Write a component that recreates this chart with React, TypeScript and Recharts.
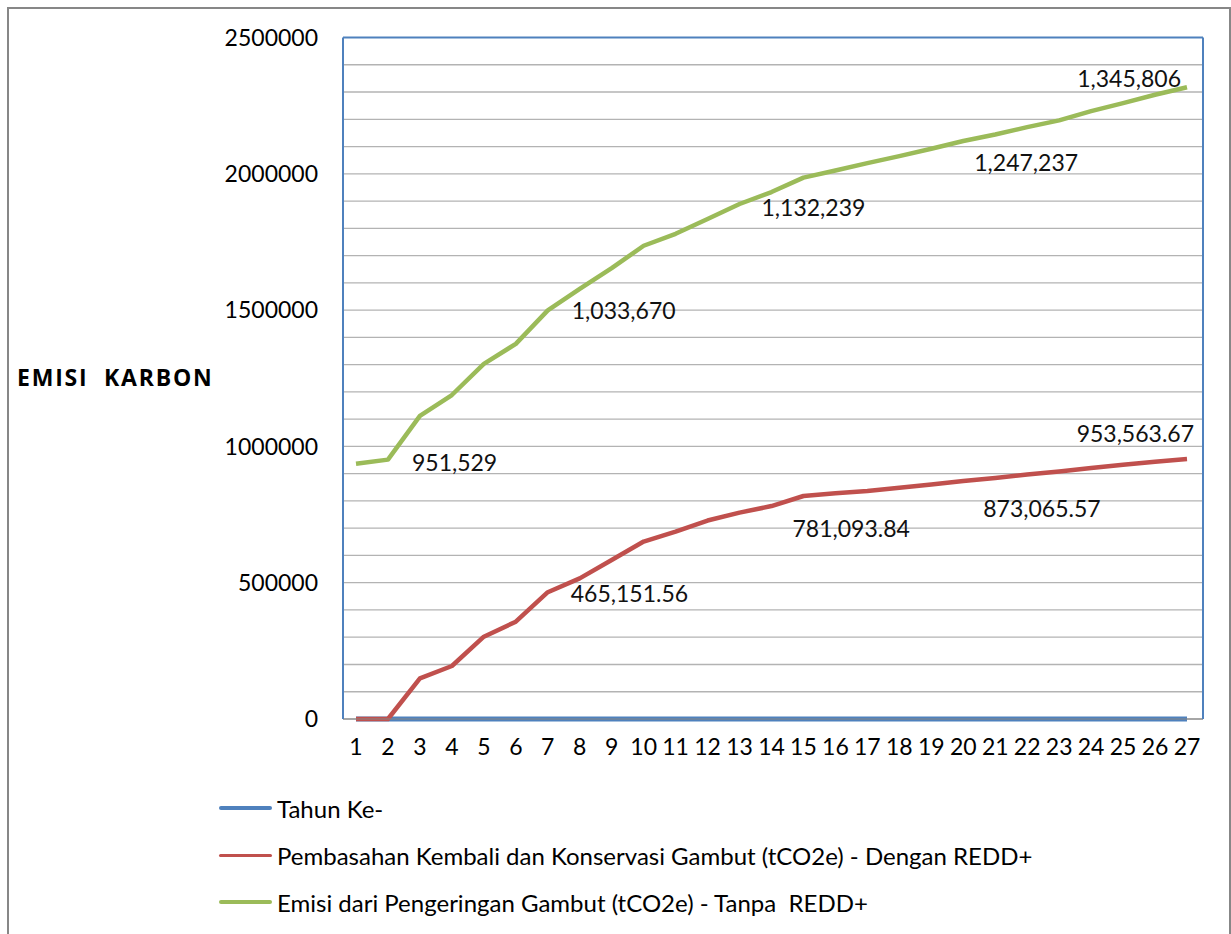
import React from 'react';
import { AreaChart, Area, XAxis, YAxis, CartesianGrid, LabelList } from 'recharts';

// Tahun (years 1..27) on the category axis
const years = [1, 2, 3, 4, 5, 6, 7, 8, 9, 10, 11, 12, 13, 14, 15, 16, 17, 18, 19, 20, 21, 22, 23, 24, 25, 26, 27];

// "Tahun Ke-" column, plotted as its own (near-zero) series
const tahunKe = [1, 2, 3, 4, 5, 6, 7, 8, 9, 10, 11, 12, 13, 14, 15, 16, 17, 18, 19, 20, 21, 22, 23, 24, 25, 26, 27];

// Pembasahan Kembali dan Konservasi Gambut (tCO2e) - Dengan REDD+
const denganRedd = [
  0, 0, 149000, 194500, 302000, 357000, 465151.56, 516000, 583000, 651000,
  687000, 728000, 757000, 781093.84, 818000, 828000, 836000, 848000, 860000, 873065.57,
  884000, 897000, 908000, 921000, 933000, 944000, 953563.67,
];

// Emisi dari Pengeringan Gambut (tCO2e) - Tanpa REDD+ (stacked on top of the series above)
const tanpaRedd = [
  936000, 951529, 963000, 994000, 1001000, 1019000, 1033670, 1062000, 1071000, 1085000,
  1093000, 1106000, 1132239, 1152000, 1168000, 1184000, 1203000, 1217000, 1232000, 1247237,
  1260000, 1274000, 1288000, 1309000, 1326000, 1345806, 1364000,
];

const yTicks = [0, 500000, 1000000, 1500000, 2000000, 2500000];
const gridValues = [
  0, 100000, 200000, 300000, 400000, 500000, 600000, 700000, 800000, 900000, 1000000,
  1100000, 1200000, 1300000, 1400000, 1500000, 1600000, 1700000, 1800000, 1900000, 2000000,
  2100000, 2200000, 2300000, 2400000,
];

const seriesNames = {
  tahunKe: 'Tahun Ke-',
  dengan: 'Pembasahan Kembali dan Konservasi Gambut (tCO2e) - Dengan REDD+',
  tanpa: 'Emisi dari Pengeringan Gambut (tCO2e) - Tanpa  REDD+',
};

const data = years.map((year, i) => ({
  year,
  tahunKe: tahunKe[i],
  dengan: denganRedd[i],
  tanpa: tanpaRedd[i],
}));

const FONT = 'Lato, "Open Sans", sans-serif';
const BLUE = '#4F81BD';
const RED = '#C0504D';
const GREEN = '#9BBB59';

// where each data label sits relative to its point (keyed by year)
type Placement = { dx: number; dy: number; anchor?: 'start' | 'end' | 'middle' };
const denganLabelPlacement: Record<number, Placement> = {
  7: { dx: 23, dy: 1 },
  14: { dx: 21, dy: 22 },
  20: { dx: 20, dy: 27 },
  27: { dx: 7, dy: -26, anchor: 'end' },
};
const tanpaLabelPlacement: Record<number, Placement> = {
  2: { dx: 24, dy: 2 },
  7: { dx: 24, dy: 0 },
  13: { dx: 22, dy: 3 },
  20: { dx: 11, dy: 21 },
  26: { dx: 26, dy: -17, anchor: 'end' },
};

const fmt2 = new Intl.NumberFormat('en-US', { minimumFractionDigits: 2, maximumFractionDigits: 2 });
const fmt0 = new Intl.NumberFormat('en-US', { maximumFractionDigits: 0 });

const makeLabel = (placement: Record<number, Placement>, format: (v: number) => string) =>
  (props: any) => {
    const idx = props.index;
    const year = years[idx];
    const p = placement[year];
    if (!p) return null;
    const x = props.x ?? props.viewBox?.x;
    const y = props.y ?? props.viewBox?.y;
    if (x == null || y == null) return null;
    return (
      <text
        key={`lbl-${year}`}
        x={x + p.dx}
        y={y + p.dy}
        textAnchor={p.anchor ?? 'start'}
        dominantBaseline="central"
        fontSize={23}
        fontFamily={FONT}
        fill="#111"
      >
        {format(Number(props.value))}
      </text>
    );
  };

const legendItems = [
  { key: 'tahunKe', color: BLUE, thickness: 4.5 },
  { key: 'dengan', color: RED, thickness: 3 },
  { key: 'tanpa', color: GREEN, thickness: 4.5 },
] as const;

export default function App() {
  return (
    <div style={{ position: 'relative', width: 1231, height: 934, overflow: 'hidden', background: '#fff', fontFamily: FONT }}>
      <style>{`html,body{margin:0;padding:0;overflow:hidden;background:#fff}`}</style>
      <div
        style={{
          position: 'absolute',
          left: 7,
          top: 7,
          width: 1223.5,
          height: 940,
          border: '2.5px solid #878787',
          borderBottom: 'none',
          boxSizing: 'border-box',
        }}
      />
      <div style={{ position: 'absolute', left: 0, top: 0 }}>
        <AreaChart width={1231} height={934} data={data} margin={{ top: 36.5, right: 27, bottom: 155, left: 0 }}>
          <CartesianGrid vertical={false} horizontalValues={gridValues} stroke="#b3b3b3" strokeWidth={1.3} />
          <XAxis
            dataKey="year"
            scale="point"
            padding={{ left: 13, right: 16 }}
            interval={0}
            height={60}
            tickSize={0}
            tickMargin={20}
            tickLine={false}
            axisLine={{ stroke: '#868686', strokeWidth: 1 }}
            tick={{ fontSize: 23, fill: '#000', fontFamily: FONT }}
          />
          <XAxis
            xAxisId="frame"
            dataKey="year"
            orientation="top"
            scale="point"
            height={1}
            tick={false}
            tickLine={false}
            axisLine={{ stroke: BLUE, strokeWidth: 2 }}
          />
          <YAxis
            width={343}
            domain={[0, 2500000]}
            ticks={yTicks}
            interval={0}
            tickSize={0}
            tickMargin={25}
            tickLine={false}
            axisLine={{ stroke: BLUE, strokeWidth: 2 }}
            tick={{ fontSize: 23, fill: '#000', fontFamily: FONT }}
            label={{
              value: 'EMISI\u00a0\u00a0KARBON',
              position: 'insideLeft',
              offset: 17,
              style: {
                fontSize: 23,
                fontWeight: 700,
                fill: '#000',
                fontFamily: '"Open Sans", sans-serif',
                letterSpacing: 1.8,
              },
            }}
          />
          <YAxis
            yAxisId="frame"
            orientation="right"
            width={1}
            domain={[0, 1]}
            tick={false}
            tickLine={false}
            axisLine={{ stroke: BLUE, strokeWidth: 2 }}
          />
          <Area
            type="linear"
            dataKey="tahunKe"
            name={seriesNames.tahunKe}
            stackId="emisi"
            stroke={BLUE}
            strokeWidth={5}
            fill="none"
            dot={false}
            activeDot={false}
            isAnimationActive={false}
          />
          <Area
            type="linear"
            dataKey="dengan"
            name={seriesNames.dengan}
            stackId="emisi"
            stroke={RED}
            strokeWidth={4.5}
            strokeLinejoin="round"
            fill="none"
            dot={false}
            activeDot={false}
            isAnimationActive={false}
          >
            <LabelList dataKey="dengan" content={makeLabel(denganLabelPlacement, (v) => fmt2.format(v))} />
          </Area>
          <Area
            type="linear"
            dataKey="tanpa"
            name={seriesNames.tanpa}
            stackId="emisi"
            stroke={GREEN}
            strokeWidth={4.5}
            strokeLinejoin="round"
            fill="none"
            dot={false}
            activeDot={false}
            isAnimationActive={false}
          >
            <LabelList dataKey="tanpa" content={makeLabel(tanpaLabelPlacement, (v) => fmt0.format(v))} />
          </Area>
        </AreaChart>
      </div>
      <div style={{ position: 'absolute', left: 219, top: 784.5 }}>
        {legendItems.map((item) => (
          <div key={item.key} style={{ display: 'flex', alignItems: 'center', height: 47 }}>
            <span style={{ display: 'inline-block', width: 53, height: item.thickness, background: item.color, borderRadius: 2 }} />
            <span style={{ marginLeft: 5, fontSize: 24, color: '#000', whiteSpace: 'pre' }}>
              {seriesNames[item.key]}
            </span>
          </div>
        ))}
      </div>
    </div>
  );
}
